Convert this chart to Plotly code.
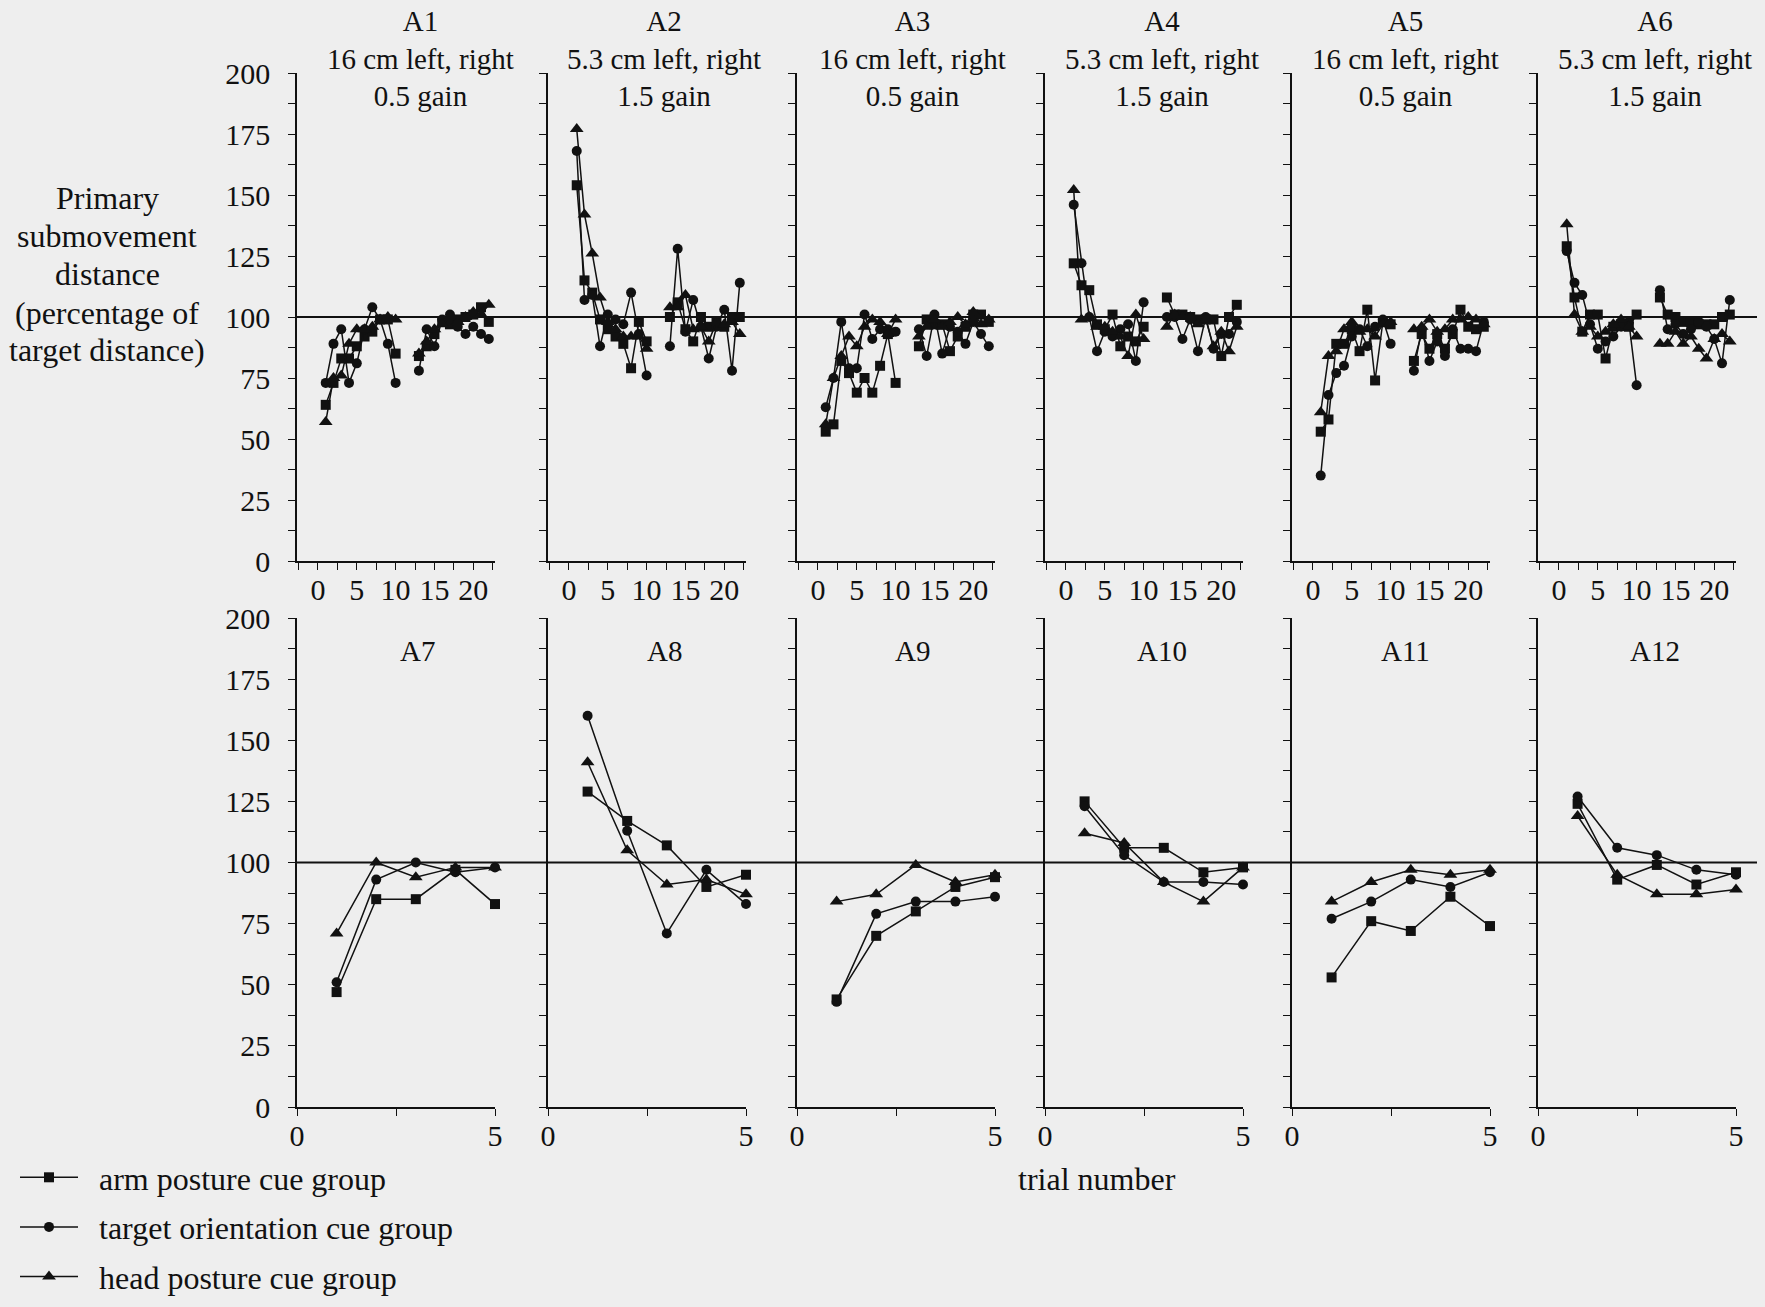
import plotly.graph_objects as go

W, H = 1765, 1307
FONT = "Liberation Serif, Times New Roman, serif"
INK = "#111111"
BG = "#eeeeee"

# ---------------- data ----------------
TRIALS_TOP_BLOCK1 = [1, 2, 3, 4, 5, 6, 7, 8, 9, 10]
TRIALS_TOP_BLOCK2 = [13, 14, 15, 16, 17, 18, 19, 20, 21, 22]
TRIALS_BOTTOM = [1, 2, 3, 4, 5]

PANEL_NAMES = ["A1", "A2", "A3", "A4", "A5", "A6", "A7", "A8", "A9", "A10", "A11", "A12"]
CONDITIONS = ["16 cm left, right", "5.3 cm left, right", "16 cm left, right",
              "5.3 cm left, right", "16 cm left, right", "5.3 cm left, right"]
GAINS = ["0.5 gain", "1.5 gain", "0.5 gain", "1.5 gain", "0.5 gain", "1.5 gain"]
SERIES_NAMES = ["arm posture cue group", "target orientation cue group", "head posture cue group"]
Y_TITLE_LINES = ["Primary", "submovement", "distance", "(percentage of", "target distance)"]
X_TITLE = "trial number"

A1_arm = [64, 73, 83, 83, 88, 92, 94, 99, 99, 85, 84, 88, 93, 98, 97, 99, 100, 101, 104, 98]
A1_target = [73, 89, 95, 73, 81, 95, 104, 99, 89, 73, 78, 95, 88, 99, 101, 96, 93, 96, 93, 91]
A1_head = [57, 75, 76, 89, 95, 95, 96, 99, 100, 99, 85, 90, 95, 97, 100, 98, 100, 102, 101, 105]

A2_arm = [154, 115, 110, 99, 95, 92, 89, 79, 98, 90, 100, 106, 95, 90, 100, 96, 98, 96, 100, 100]
A2_target = [168, 107, 109, 88, 101, 99, 97, 110, 93, 76, 88, 128, 94, 107, 96, 83, 96, 103, 78, 114]
A2_head = [177, 142, 126, 108, 98, 95, 92, 92, 92, 87, 104, 104, 109, 95, 96, 90, 98, 97, 98, 93]

A3_arm = [53, 56, 82, 77, 69, 75, 69, 80, 93, 73, 88, 99, 97, 97, 86, 92, 96, 101, 101, 98]
A3_target = [63, 75, 98, 79, 79, 101, 91, 95, 95, 94, 95, 84, 101, 85, 96, 94, 89, 98, 93, 88]
A3_head = [56, 75, 84, 92, 88, 96, 99, 98, 93, 99, 92, 96, 99, 96, 98, 100, 97, 102, 97, 99]

A4_arm = [122, 113, 111, 97, 95, 101, 88, 92, 90, 96, 108, 101, 101, 100, 99, 99, 99, 84, 100, 105]
A4_target = [146, 122, 100, 86, 94, 92, 95, 97, 82, 106, 100, 100, 91, 99, 86, 100, 87, 93, 93, 98]
A4_head = [152, 99, 100, 96, 96, 94, 92, 84, 101, 91, 96, 101, 100, 100, 97, 99, 88, 94, 86, 96]

A5_arm = [53, 58, 89, 89, 95, 86, 103, 74, 98, 97, 82, 93, 87, 93, 87, 93, 103, 96, 95, 96]
A5_target = [35, 68, 77, 80, 92, 95, 88, 96, 99, 89, 78, 95, 82, 90, 84, 95, 87, 87, 86, 98]
A5_head = [61, 84, 86, 95, 98, 94, 95, 92, 97, 98, 95, 96, 99, 94, 95, 99, 99, 100, 99, 97]

A6_arm = [129, 108, 94, 101, 101, 83, 96, 97, 96, 101, 108, 101, 100, 98, 98, 97, 97, 97, 100, 101]
A6_target = [127, 114, 109, 97, 87, 90, 92, 96, 98, 72, 111, 95, 97, 93, 95, 98, 96, 91, 81, 107]
A6_head = [138, 101, 94, 96, 92, 94, 97, 99, 96, 92, 89, 89, 94, 89, 92, 87, 83, 91, 93, 90]

A7_arm = [47, 85, 85, 97, 83]
A7_target = [51, 93, 100, 96, 98]
A7_head = [71, 100, 94, 98, 98]
A8_arm = [129, 117, 107, 90, 95]
A8_target = [160, 113, 71, 97, 83]
A8_head = [141, 105, 91, 93, 87]
A9_arm = [44, 70, 80, 90, 94]
A9_target = [43, 79, 84, 84, 86]
A9_head = [84, 87, 99, 92, 95]
A10_arm = [125, 106, 106, 96, 98]
A10_target = [123, 103, 92, 92, 91]
A10_head = [112, 108, 92, 84, 98]
A11_arm = [53, 76, 72, 86, 74]
A11_target = [77, 84, 93, 90, 96]
A11_head = [84, 92, 97, 95, 97]
A12_arm = [124, 93, 99, 91, 96]
A12_target = [127, 106, 103, 97, 95]
A12_head = [119, 95, 87, 87, 89]

PANELS = [
    (A1_arm, A1_target, A1_head), (A2_arm, A2_target, A2_head),
    (A3_arm, A3_target, A3_head), (A4_arm, A4_target, A4_head),
    (A5_arm, A5_target, A5_head), (A6_arm, A6_target, A6_head),
    (A7_arm, A7_target, A7_head), (A8_arm, A8_target, A8_head),
    (A9_arm, A9_target, A9_head), (A10_arm, A10_target, A10_head),
    (A11_arm, A11_target, A11_head), (A12_arm, A12_target, A12_head),
]

# ---------------- styling / layout (pixel positions) ----------------
SYMBOLS = ["square", "circle", "triangle-up"]
SIZES = [10, 10, 12]
X_STARTS = [297, 548, 797, 1045, 1292, 1538]
PANEL_W = 198
TITLE_X = [420, 664, 912, 1162, 1405, 1655]
TOP_Y = (73, 561)       # pixel rows of value 200 and 0
BOT_Y = (618, 1107)
Y_TITLE_ROWS = [198, 236, 274, 313, 350]

fig = go.Figure()
layout = dict(
    template="none",
    width=W, height=H, autosize=False,
    margin=dict(l=0, r=0, t=0, b=0, pad=0),
    paper_bgcolor=BG, plot_bgcolor=BG,
    font=dict(family=FONT, color=INK, size=28),
    showlegend=True,
    shapes=[], annotations=[],
)

for i in range(12):
    n = i + 1
    row, col = divmod(i, 6)
    xs = X_STARTS[col] / W
    xe = (X_STARTS[col] + PANEL_W) / W
    ypx = TOP_Y if row == 0 else BOT_Y
    ydom = [(H - ypx[1]) / H, (H - ypx[0]) / H]
    xname = "x" if n == 1 else f"x{n}"
    yname = "y" if n == 1 else f"y{n}"
    xkey = "xaxis" if n == 1 else f"xaxis{n}"
    ykey = "yaxis" if n == 1 else f"yaxis{n}"

    layout[xkey] = dict(
        domain=[xs, xe], anchor=yname, automargin=False,
        range=[-2.7, 22.8] if row == 0 else [0, 5],
        showline=True, linecolor=INK, linewidth=1.5,
        ticks="outside", ticklen=7, tickwidth=1.3, tickcolor=INK,
        tick0=0, dtick=5,
        minor=dict(ticks="outside", dtick=2.5, tick0=0, ticklen=7, tickwidth=1.3, tickcolor=INK),
        showgrid=False, zeroline=False,
        ticklabelstandoff=-6,
        tickfont=dict(size=30, family=FONT, color=INK),
    )
    layout[ykey] = dict(
        domain=ydom, anchor=xname, automargin=False, range=[0, 200],
        showline=True, linecolor=INK, linewidth=1.5,
        ticks="outside", ticklen=7, tickwidth=1.3, tickcolor=INK,
        tick0=0, dtick=25,
        minor=dict(ticks="outside", dtick=12.5, tick0=0, ticklen=7, tickwidth=1.3, tickcolor=INK),
        showgrid=False, zeroline=False,
        showticklabels=(col == 0),
        ticklabelstandoff=12,
        tickfont=dict(size=30, family=FONT, color=INK),
    )

    if row == 0:
        xvals = TRIALS_TOP_BLOCK1 + [None] + TRIALS_TOP_BLOCK2
    else:
        xvals = TRIALS_BOTTOM

    for s, series in enumerate(PANELS[i]):
        vals = list(series)
        if row == 0:
            vals = vals[:10] + [None] + vals[10:]
        fig.add_trace(go.Scatter(
            x=xvals, y=vals, xaxis=xname, yaxis=yname,
            mode="lines+markers", name="\u00a0\u00a0" + SERIES_NAMES[s],
            legendgroup=SERIES_NAMES[s], showlegend=(i == 0),
            line=dict(color=INK, width=1.5),
            marker=dict(symbol=SYMBOLS[s], size=SIZES[s], color=INK, line=dict(width=0)),
            cliponaxis=False, connectgaps=False,
        ))

    # panel titles
    tx = (TITLE_X[col] if not (row == 1 and col == 0) else 417) / W
    if row == 0:
        layout["annotations"].append(dict(
            xref="paper", yref="paper", x=tx, y=(H - 58) / H,
            text=f"{PANEL_NAMES[i]}<br>{CONDITIONS[col]}<br>{GAINS[col]}",
            showarrow=False, xanchor="center", yanchor="middle",
            font=dict(size=29, family=FONT, color=INK)))
    else:
        layout["annotations"].append(dict(
            xref="paper", yref="paper", x=tx, y=(H - 651) / H,
            text=PANEL_NAMES[i], showarrow=False,
            xanchor="center", yanchor="middle",
            font=dict(size=29, family=FONT, color=INK)))

# reference lines at 100 %
for yref in ["y", "y7"]:
    layout["shapes"].append(dict(
        type="line", xref="paper", yref=yref,
        x0=297 / W, x1=1757 / W, y0=100, y1=100,
        line=dict(color=INK, width=2.2)))

# y-axis title (one annotation per line, to match the line spacing)
for line_text, ypix in zip(Y_TITLE_LINES, Y_TITLE_ROWS):
    layout["annotations"].append(dict(
        xref="paper", yref="paper", x=107 / W, y=(H - ypix) / H,
        text=line_text, showarrow=False, xanchor="center", yanchor="middle",
        font=dict(size=32, family=FONT, color=INK)))

# x-axis title
layout["annotations"].append(dict(
    xref="paper", yref="paper", x=1097 / W, y=(H - 1179) / H,
    text=X_TITLE, showarrow=False,
    xanchor="center", yanchor="middle",
    font=dict(size=32, family=FONT, color=INK)))

layout["legend"] = dict(
    x=15 / W, y=(H - 1150) / H, xanchor="left", yanchor="top",
    bgcolor="rgba(0,0,0,0)", borderwidth=0,
    font=dict(size=32, family=FONT, color=INK),
    itemwidth=58, tracegroupgap=5, traceorder="grouped",
)

fig.update_layout(**layout)

POST = (
    "document.documentElement.style.cssText='margin:0;padding:0;overflow:hidden;background:#eeeeee;';"
    "document.body.style.cssText='margin:0;padding:0;overflow:hidden;background:#eeeeee;';"
    "var gd=document.getElementById('{plot_id}');"
    "if(gd&&gd.parentElement)gd.parentElement.style.cssText='margin:0;padding:0;width:1765px;height:1307px;overflow:hidden;';"
)
fig.write_html("out.html", post_script=POST, config={"displayModeBar": False})
